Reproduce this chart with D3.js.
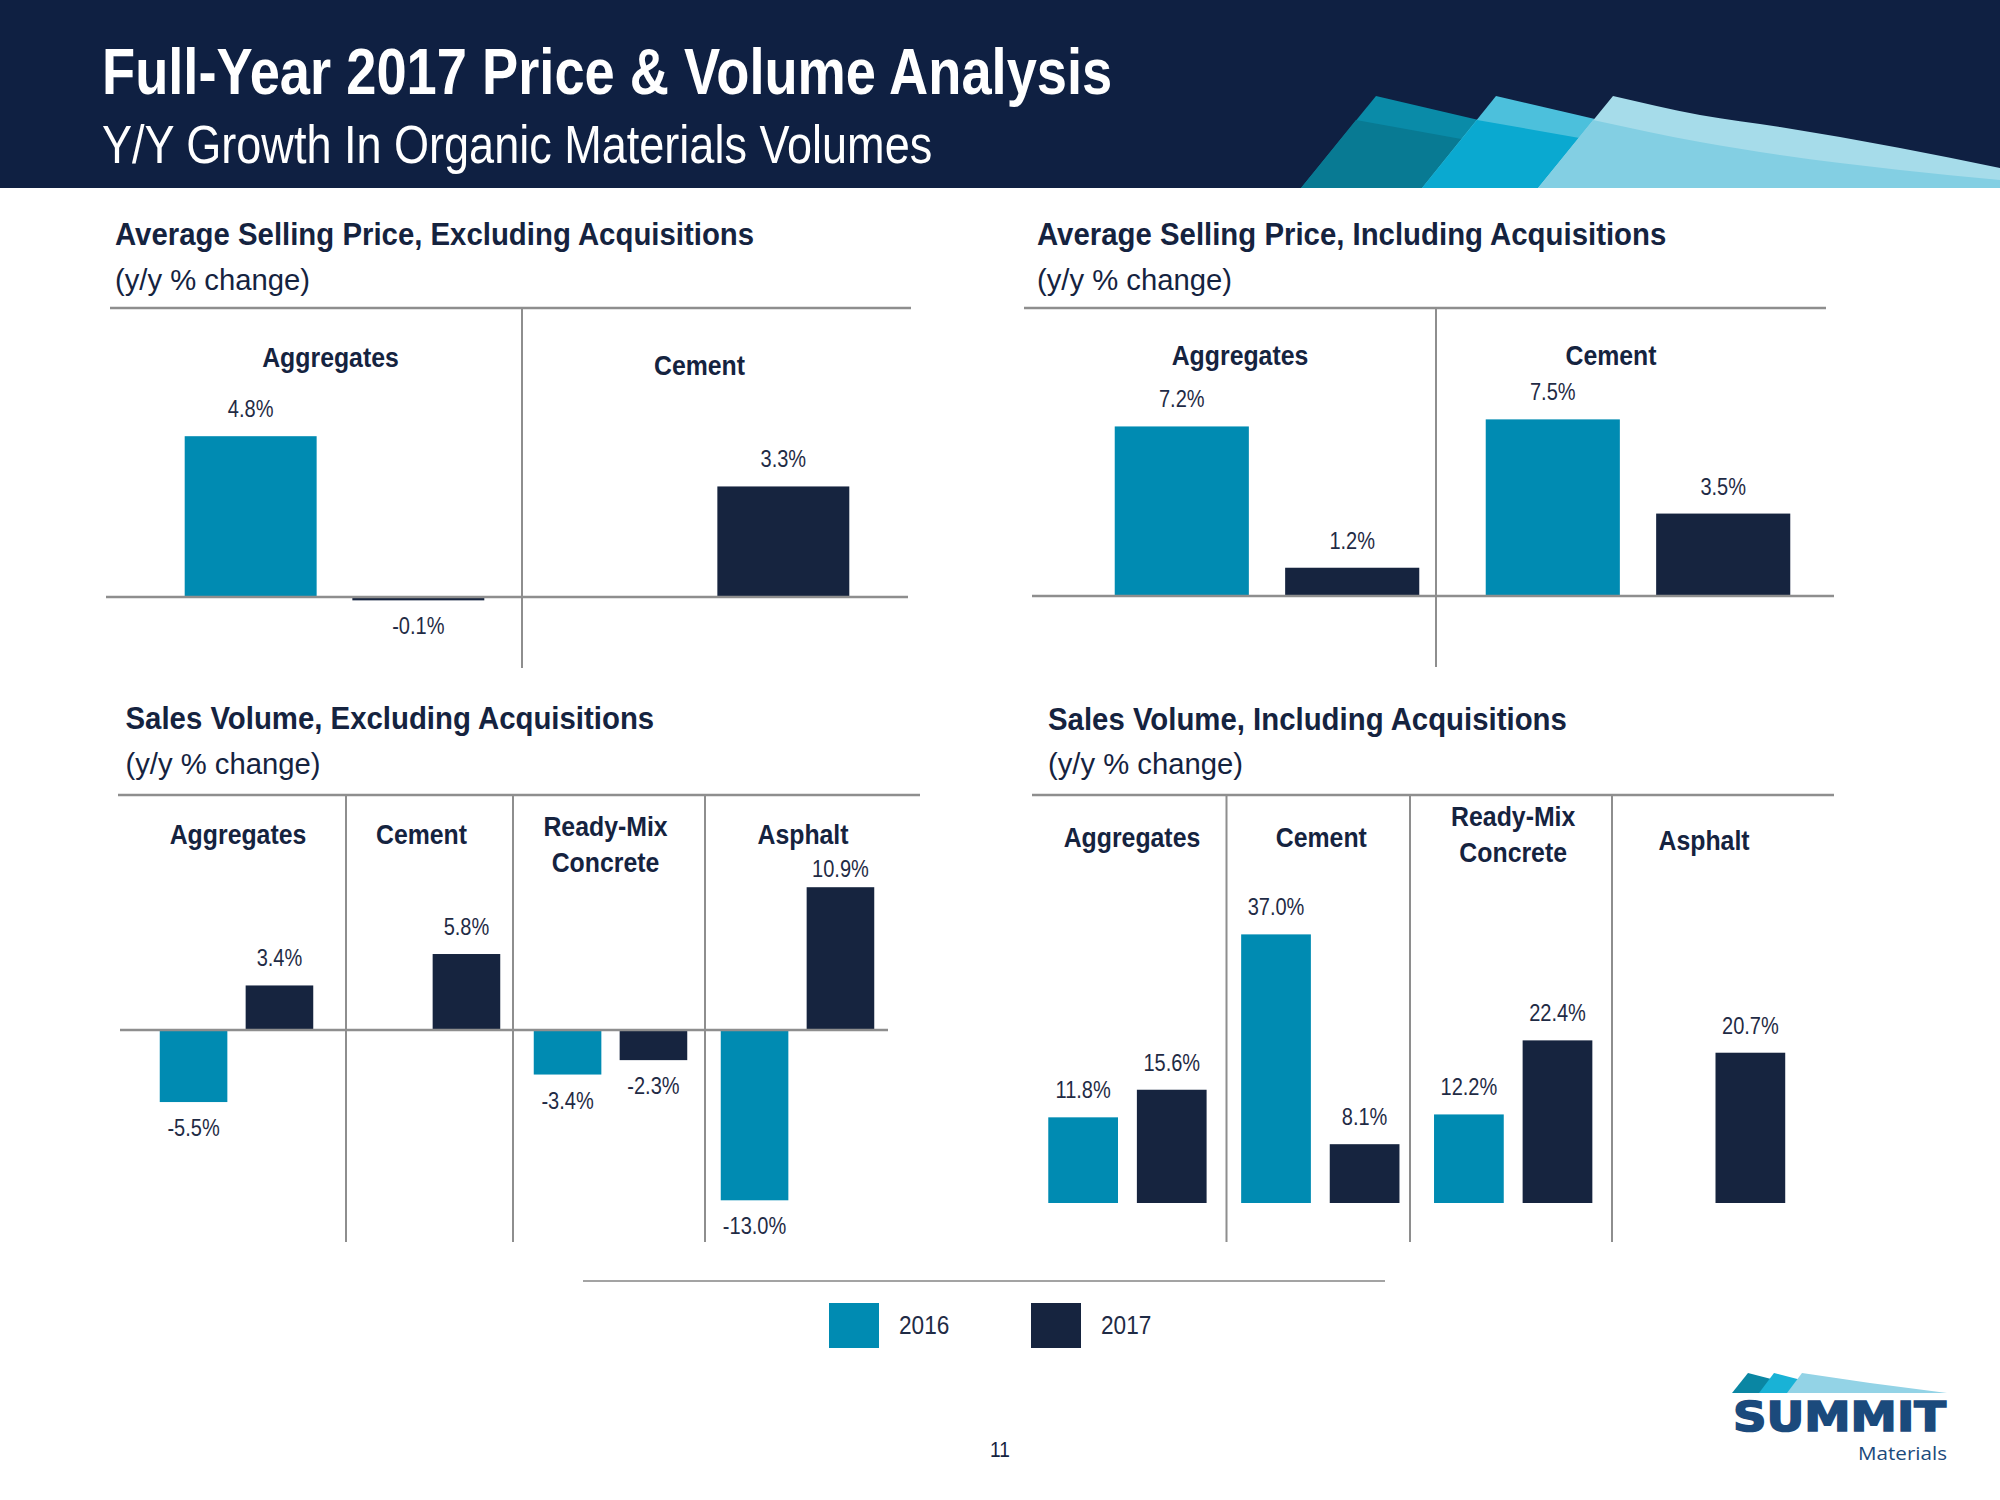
<!DOCTYPE html>
<html>
<head>
<meta charset="utf-8">
<script src="https://cdn.jsdelivr.net/npm/d3@7"></script>
<style>
  html, body { margin: 0; padding: 0; background: #ffffff; }
  svg { display: block; }
</style>
</head>
<body>
<script>
// ---------------- DATA ----------------
const seriesNames = ["2016", "2017"];
const priceCategories = ["Aggregates", "Cement"];
const priceExcl2016 = [4.8, null];
const priceExcl2017 = [-0.1, 3.3];
const priceIncl2016 = [7.2, 7.5];
const priceIncl2017 = [1.2, 3.5];
const volumeCategories = ["Aggregates", "Cement", "Ready-Mix Concrete", "Asphalt"];
const volExcl2016 = [-5.5, null, -3.4, -13.0];
const volExcl2017 = [3.4, 5.8, -2.3, 10.9];
const volIncl2016 = [11.8, 37.0, 12.2, null];
const volIncl2017 = [15.6, 8.1, 22.4, 20.7];
const mainTitle = "Full-Year 2017 Price & Volume Analysis";
const mainSubtitle = "Y/Y Growth In Organic Materials Volumes";
const panelTitles = [
  "Average Selling Price, Excluding Acquisitions",
  "Average Selling Price, Including Acquisitions",
  "Sales Volume, Excluding Acquisitions",
  "Sales Volume, Including Acquisitions"
];
const panelSubtitle = "(y/y % change)";
const pageNumber = "11";

// ---------------- STYLE ----------------
const C2016 = "#008bb2", C2017 = "#16243f";
const NAVY = "#0f2042", TXT = "#15233f", VAL = "#1f2b45", RULE = "#8e8e8e";
const FONT = "'Liberation Sans', Arial, Helvetica, sans-serif";

const svg = d3.select("body").append("svg").attr("width", 2000).attr("height", 1500);
svg.append("rect").attr("width", 2000).attr("height", 1500).attr("fill", "#fff");

function txt(g, x, y, s, o) {
  o = o || {};
  return g.append("text")
    .attr("transform", `translate(${x},${y}) scale(${o.sx || 1},1)`)
    .attr("text-anchor", o.anchor || "start")
    .attr("font-family", o.family || FONT)
    .attr("font-size", o.size || 20)
    .attr("font-weight", o.weight || "normal")
    .attr("fill", o.fill || TXT)
    .text(s);
}

// ---------------- HEADER ----------------
svg.append("rect").attr("x", 0).attr("y", 0).attr("width", 2000).attr("height", 188).attr("fill", NAVY);
const line = d3.line().curve(d3.curveLinear);
const hdr = svg.append("g");
hdr.append("path").attr("d", line([[1301,188],[1376,96],[1500,125],[1500,188]]) + "Z").attr("fill", "#0a8ba8");
hdr.append("path").attr("d", line([[1301,188],[1356,120],[1500,146],[1500,188]]) + "Z").attr("fill", "#087a93");
hdr.append("path").attr("d", line([[1422,188],[1496,96],[1625,126],[1625,188]]) + "Z").attr("fill", "#4cc0dc");
hdr.append("path").attr("d", line([[1422,188],[1477,120],[1625,146],[1625,188]]) + "Z").attr("fill", "#0aa9d0");
const curveL = d3.line().curve(d3.curveMonotoneX);
hdr.append("path").attr("d", "M1538,188 L1613,96 " + curveL([[1613,96],[1700,115],[1780,127],[1900,148],[2000,168]]).replace(/^M[^L C]*/, "") + " L2000,188 Z").attr("fill", "#a6dcea");
hdr.append("path").attr("d", "M1538,188 L1593,120 " + curveL([[1593,120],[1700,142],[1780,155],[1900,170],[2000,180]]).replace(/^M[^L C]*/, "") + " L2000,188 Z").attr("fill", "#83cfe3");

txt(svg, 102, 94, mainTitle, { size: 65, weight: "bold", fill: "#ffffff", sx: 0.835 });
txt(svg, 102, 163, mainSubtitle, { size: 53, fill: "#ffffff", sx: 0.85 });

// ---------------- PANELS ----------------
const panels = [
  { title: panelTitles[0], cats: priceCategories, s16: priceExcl2016, s17: priceExcl2017,
    tx: 115, ty: 245, sy: 290, rule: [110, 911, 308], dividers: [522], divBottom: 668,
    zero: [106, 908], yDom: [-2, 6], yRng: [664, 396], xRng: [152, 882],
    catY: [367, 375], catDx: [-4, 0], labelMinY: 0 },
  { title: panelTitles[1], cats: priceCategories, s16: priceIncl2016, s17: priceIncl2017,
    tx: 1037, ty: 245, sy: 290, rule: [1024, 1826, 308], dividers: [1436], divBottom: 667,
    zero: [1032, 1834], yDom: [0, 8], yRng: [596, 407.6], xRng: [1081.5, 1823.5],
    catY: [365, 365], catDx: [-27, -27], labelMinY: 0 },
  { title: panelTitles[2], cats: volumeCategories, s16: volExcl2016, s17: volExcl2017,
    tx: 125.5, ty: 729, sy: 774, rule: [118, 920, 795], dividers: [346, 513, 705], divBottom: 1242,
    zero: [120, 888], yDom: [-14, 12], yRng: [1213.4, 872.8], xRng: [143, 891],
    catY: [844, 844, 836, 844], catDx: [1.5, -2, -5, 5.5], labelMinY: 877 },
  { title: panelTitles[3], cats: volumeCategories, s16: volIncl2016, s17: volIncl2017,
    tx: 1048, ty: 730, sy: 774, rule: [1032, 1834, 795], dividers: [1226.5, 1410, 1612], divBottom: 1242,
    zero: null, yDom: [0, 40], yRng: [1203, 912.6], xRng: [1031, 1802.5],
    catY: [847, 847, 826, 850], catDx: [4.5, 1, 0, -2], labelMinY: 0 }
];

const locale = d3.formatLocale({ decimal: ".", thousands: ",", grouping: [3], currency: ["", ""], minus: "-" });
const fmt = locale.format(".1f");

panels.forEach(p => {
  const g = svg.append("g");
  txt(g, p.tx, p.ty, p.title, { size: 32, weight: "bold", sx: 0.918 });
  txt(g, p.tx, p.sy, panelSubtitle, { size: 30, sx: 0.975 });

  g.append("line").attr("x1", p.rule[0]).attr("x2", p.rule[1]).attr("y1", p.rule[2]).attr("y2", p.rule[2])
    .attr("stroke", RULE).attr("stroke-width", 2.7);
  p.dividers.forEach(dx => {
    g.append("line").attr("x1", dx).attr("x2", dx).attr("y1", p.rule[2]).attr("y2", p.divBottom)
      .attr("stroke", RULE).attr("stroke-width", 2);
  });

  const x0 = d3.scaleBand().domain(p.cats).range(p.xRng).paddingInner(0).paddingOuter(0);
  const x1 = d3.scaleBand().domain(seriesNames).range([0, x0.bandwidth()]).paddingInner(0.213).paddingOuter(0.195);
  const y = d3.scaleLinear().domain(p.yDom).range(p.yRng);

  const rows = [];
  p.cats.forEach((c, i) => {
    [[seriesNames[0], p.s16[i]], [seriesNames[1], p.s17[i]]].forEach(([s, v]) => {
      if (v !== null && v !== undefined) rows.push({ cat: c, ser: s, v: v });
    });
  });

  g.selectAll("rect.bar").data(rows).join("rect")
    .attr("class", "bar")
    .attr("x", d => x0(d.cat) + x1(d.ser))
    .attr("width", x1.bandwidth())
    .attr("y", d => Math.min(y(d.v), y(0)))
    .attr("height", d => Math.abs(y(d.v) - y(0)))
    .attr("fill", d => d.ser === "2016" ? C2016 : C2017);

  if (p.zero) {
    g.append("line").attr("x1", p.zero[0]).attr("x2", p.zero[1]).attr("y1", y(0)).attr("y2", y(0))
      .attr("stroke", RULE).attr("stroke-width", 2.7);
  }

  rows.forEach(d => {
    const cx = x0(d.cat) + x1(d.ser) + x1.bandwidth() / 2;
    const ly = d.v >= 0 ? Math.max(y(d.v) - 19, p.labelMinY) : y(d.v) + 34;
    txt(g, cx, ly, fmt(d.v) + "%", { size: 23, anchor: "middle", fill: VAL, sx: 0.87 });
  });

  p.cats.forEach((c, i) => {
    const cx = x0(c) + x0.bandwidth() / 2 + p.catDx[i];
    const parts = c.split(" ");
    parts.forEach((w, k) => {
      txt(g, cx, p.catY[i] + k * 36, w, { size: 27, weight: "bold", anchor: "middle", sx: 0.92 });
    });
  });
});

// ---------------- LEGEND ----------------
svg.append("line").attr("x1", 583).attr("x2", 1385).attr("y1", 1281).attr("y2", 1281)
  .attr("stroke", "#a3a3a3").attr("stroke-width", 2);
const legendX = [829, 1031];
seriesNames.forEach((s, i) => {
  svg.append("rect").attr("x", legendX[i]).attr("y", 1303).attr("width", 50).attr("height", 45)
    .attr("fill", i === 0 ? C2016 : C2017);
  txt(svg, legendX[i] + 70, 1334, s, { size: 26, fill: VAL, sx: 0.87 });
});

// page number
txt(svg, 1000, 1457, pageNumber, { size: 22, anchor: "middle", fill: TXT, sx: 0.87 });

// ---------------- LOGO ----------------
const logo = svg.append("g");
logo.append("path").attr("d", line([[1732,1393],[1748,1373],[1775,1380],[1775,1393]]) + "Z").attr("fill", "#0a86a3");
logo.append("path").attr("d", line([[1759,1393],[1774,1373],[1805,1381],[1805,1393]]) + "Z").attr("fill", "#19b2d6");
logo.append("path").attr("d", line([[1787,1393],[1802,1373],[1870,1383],[1947,1393]]) + "Z").attr("fill", "#93d3e6");
logo.append("text").attr("x", 1733).attr("y", 1431)
  .attr("font-family", "'DejaVu Sans', Verdana, sans-serif").attr("font-weight", "bold")
  .attr("font-size", 40).attr("fill", "#1b4a7c").attr("stroke", "#1b4a7c").attr("stroke-width", 1.6)
  .attr("textLength", 213).attr("lengthAdjust", "spacingAndGlyphs").text("SUMMIT");
logo.append("text").attr("x", 1947).attr("y", 1460).attr("text-anchor", "end")
  .attr("font-family", "'Open Sans', 'Noto Sans', sans-serif")
  .attr("font-size", 18).attr("fill", "#1b4a7c")
  .attr("textLength", 89).attr("lengthAdjust", "spacingAndGlyphs").text("Materials");
</script>
</body>
</html>
